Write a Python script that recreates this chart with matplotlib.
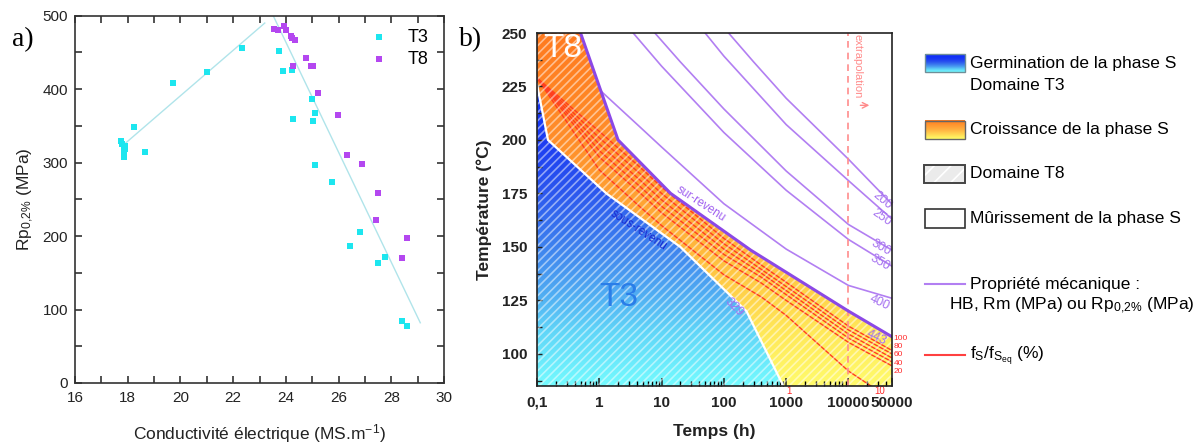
import numpy as np
import matplotlib
matplotlib.use('Agg')
import matplotlib.pyplot as plt
from matplotlib.patches import Polygon, Rectangle
from matplotlib.colors import LinearSegmentedColormap
from matplotlib.ticker import MultipleLocator, LogLocator, NullFormatter
import matplotlib.transforms as mtransforms

plt.rcParams['font.family'] = ['Liberation Sans', 'DejaVu Sans']
plt.rcParams['mathtext.fontset'] = 'custom'
plt.rcParams['mathtext.rm'] = 'Liberation Sans'
plt.rcParams['mathtext.it'] = 'Liberation Sans:italic'
plt.rcParams['mathtext.bf'] = 'Liberation Sans:bold'
plt.rcParams['hatch.linewidth'] = 1.2

# ---------------- Panel a data ----------------
t3_cond = [17.75, 17.8, 17.85, 17.9, 17.85, 17.85, 17.9, 18.25, 18.66, 19.7, 21.0, 22.35,
           23.75, 23.88, 24.22, 24.27, 24.99, 25.09, 25.04, 25.09, 25.76, 26.43, 26.81,
           27.48, 27.76, 28.4, 28.58]
t3_rp = [330, 325, 320, 318, 312, 308, 322, 348, 314, 409, 423, 456,
         452, 425, 426, 360, 387, 367, 357, 297, 274, 186, 206,
         164, 172, 85, 78]
t8_cond = [23.55, 23.71, 23.94, 24.0, 24.18, 24.23, 24.33, 24.28, 24.76, 24.94, 25.04,
           25.22, 25.99, 26.31, 26.88, 27.48, 27.42, 28.42, 28.58]
t8_rp = [482, 480, 486, 481, 472, 469, 467, 432, 443, 432, 431,
         395, 365, 310, 298, 259, 222, 170, 198]
trend1_x = [17.9, 23.2]
trend1_y = [326, 490]
trend2_x = [23.52, 29.1]
trend2_y = [500, 82]

# ---------------- Panel b data ----------------
t_range = [0.1, 50000]
T_range = [85, 250]
t3_bound_t = [0.1, 0.15, 1.3, 20, 230, 900]
t3_bound_T = [226, 200, 175, 150, 120, 85]
over_bound_t = [0.5, 2, 14, 270, 10000, 50000]
over_bound_T = [250, 200, 175, 148.5, 120, 108]

fs_t = [0.1, 1, 4.6, 10, 100, 400, 1000, 10000, 50000]
fs_100 = [229, 204, 187, 178, 154, 141.5, 133.5, 113, 101.6]
fs_80 = [229, 201, 184, 175, 151.5, 139.5, 131.5, 111.2, 100]
fs_60 = [229, 198, 181, 172, 149, 137.7, 129.6, 109.3, 98.1]
fs_40 = [229, 195, 178, 169, 146.5, 135.8, 127.7, 107.4, 96.3]
fs_20 = [229, 192, 175, 166, 143.5, 133.1, 125.0, 105.4, 94.4]
fs_10_t = [0.1, 1, 4.6, 10, 100, 400, 1000, 10000, 23000]
fs_10 = [229, 186, 168.5, 160, 137, 126.6, 118, 92, 85]
fs_labels = ['100', '80', '60', '40', '20']
fs_label_T = [107.4, 103.5, 99.6, 95.7, 91.8]

p200_t = [119, 300, 1000, 10000, 50000]
p200_T = [250, 236.5, 219.5, 191, 170]
p250_t = [50, 100, 1000, 10000, 50000]
p250_T = [250, 239.2, 207.2, 181, 163]
p300_t = [7.8, 20, 100, 1000, 10000, 50000]
p300_T = [250, 236.5, 214.5, 185.5, 160.5, 148.5]
p350_t = [3.5, 10, 100, 1000, 10000, 50000]
p350_T = [250, 234.5, 203.5, 176.5, 153.5, 141]
p400_t = [1.05, 4.6, 10, 100, 1000, 10000, 50000]
p400_T = [223, 205.8, 196.7, 170.2, 149, 132, 126]
prop_labels = ['200', '250', '300', '350', '400', '443', '329']
prop_label_t = [35300, 33600, 33600, 32000, 32000, 28000, 145]
prop_label_T = [171.7, 163.8, 149.8, 142.8, 123.7, 107.7, 121.6]
prop_label_rot = [-40, -35, -30, -30, -25, -25, -45]

xtick_vals = [0.1, 1, 10, 100, 1000, 10000, 50000]
xtick_labels = ['0,1', '1', '10', '100', '1000', '10000', '50000']
ytick_vals = [100, 125, 150, 175, 200, 225, 250]
extrap_t = 10000

# ---------------- figure ----------------
W, H = 1201, 446
fig = plt.figure(figsize=(W / 100, H / 100), dpi=100)


def box(l, t, r, b):
    return [l / W, 1 - b / H, (r - l) / W, (b - t) / H]


# ================= Panel a =================
axa = fig.add_axes(box(75, 15.7, 444, 383))
axa.plot(trend1_x, trend1_y, color='#b0e4ea', lw=1.0, zorder=1)
axa.plot(trend2_x, trend2_y, color='#b0e4ea', lw=1.0, zorder=1)
axa.scatter(t3_cond, t3_rp, marker='s', s=17, color='#1de6ef', lw=0, label='T3', zorder=3)
axa.scatter(t8_cond, t8_rp, marker='s', s=17, color='#b447f0', lw=0, label='T8', zorder=3)
axa.set_xlim(16, 30)
axa.set_ylim(0, 500)
axa.xaxis.set_major_locator(MultipleLocator(2))
axa.xaxis.set_minor_locator(MultipleLocator(1))
axa.yaxis.set_major_locator(MultipleLocator(100))
axa.yaxis.set_minor_locator(MultipleLocator(50))
axa.tick_params(which='both', direction='in', top=True, right=True, length=5, width=1.1,
                labelsize=11, colors='#222222')
axa.tick_params(axis='x', pad=6)
axa.tick_params(axis='y', pad=5)
for sp in axa.spines.values():
    sp.set_linewidth(1.2)
    sp.set_color('#333333')
axa.set_xlabel('Conductivité électrique (MS.m$^{-1}$)', fontsize=12.5, labelpad=12, color='#222222')
axa.set_ylabel(r'Rp$_{0{,}2\%}$ (MPa)', fontsize=12.5, labelpad=5, color='#222222')
axa.legend(loc='upper left', bbox_to_anchor=(0.80, 0.965), frameon=False, fontsize=13,
           handlelength=1.0, handletextpad=1.05, labelspacing=0.28, borderpad=0,
           borderaxespad=0, scatterpoints=1, markerscale=1.0)

# ================= Panel b =================
axb = fig.add_axes(box(537, 33, 892, 386))
axb.set_xscale('log')
axb.set_xlim(*t_range)
axb.set_ylim(*T_range)
axb.set_autoscale_on(False)

Tspan = T_range[1] - T_range[0]


def fr(T):
    return (T - T_range[0]) / Tspan


cmap_blue = LinearSegmentedColormap.from_list('blue', [
    (0.0, '#74fbff'), (fr(110), '#60d6f8'), (fr(130), '#4ea8f2'), (fr(150), '#3e82ee'),
    (fr(175), '#2c58ee'), (fr(200), '#1c3cf2'), (fr(225), '#1030f8'), (1.0, '#1030f8')])
cmap_orange = LinearSegmentedColormap.from_list('orange', [
    (0.0, '#fffb6c'), (fr(110), '#ffe858'), (fr(130), '#ffd048'), (fr(150), '#ffb83c'),
    (fr(175), '#ffa032'), (fr(200), '#ff8e2a'), (1.0, '#ff7a1e')])
grad = np.linspace(0, 1, 256).reshape(-1, 1)

# polygons
blue_verts = [(t_range[0], T_range[0])] + list(zip(t3_bound_t, t3_bound_T))
orange_verts = ([(t_range[0], t3_bound_T[0]), (t_range[0], T_range[1])]
                + list(zip(over_bound_t, over_bound_T))
                + [(t_range[1], T_range[0])]
                + list(zip(t3_bound_t[::-1], t3_bound_T[::-1])))
hatch_verts = ([(t_range[0], T_range[0]), (t_range[0], T_range[1])]
               + list(zip(over_bound_t, over_bound_T)) + [(t_range[1], T_range[0])])

for verts, cm in [(blue_verts, cmap_blue), (orange_verts, cmap_orange)]:
    poly = Polygon(verts, closed=True, facecolor='none', edgecolor='none')
    axb.add_patch(poly)
    im = axb.imshow(grad, extent=[0, 1, 0, 1], transform=axb.transAxes, origin='lower',
                    aspect='auto', cmap=cm, zorder=1, interpolation='bilinear')
    im.set_clip_path(poly)

# red lines
red = '#ff3d1f'
for Tv in [fs_100, fs_80, fs_60, fs_40, fs_20]:
    axb.plot(fs_t, Tv, color=red, lw=1.0, zorder=2.5)
axb.plot(fs_10_t, fs_10, color=red, lw=1.0, zorder=2.5)

# hatch
hp = Polygon(hatch_verts, closed=True, fill=False, hatch='////',
             edgecolor=(1, 1, 1, 0.5), lw=0, zorder=3)
axb.add_patch(hp)

# boundaries
axb.plot(t3_bound_t, t3_bound_T, color='white', lw=1.6, zorder=4)
axb.plot(over_bound_t, over_bound_T, color='#8b48e6', lw=2.2, zorder=6)

# property lines
pc = '#b27ff2'
for tt, TT in [(p200_t, p200_T), (p250_t, p250_T), (p300_t, p300_T), (p350_t, p350_T),
               (p400_t, p400_T)]:
    axb.plot(tt, TT, color=pc, lw=1.2, zorder=5)
for lab, tx, ty, rot in zip(prop_labels, prop_label_t, prop_label_T, prop_label_rot):
    axb.text(tx, ty, lab, color='#a46ff0', fontsize=9, rotation=rot, ha='center', va='center',
             zorder=7)

# extrapolation
axb.axvline(extrap_t, color='#ff8c8c', lw=1.2, dashes=(4, 3), zorder=5)
axb.text(14000, 234.4, 'extrapolation', rotation=-90, color='#ff8a8a', fontsize=8,
         ha='center', va='center', zorder=7)
axb.annotate('', xy=(24000, 216.2), xytext=(14000, 216.2),
             arrowprops=dict(arrowstyle='->', color='#ff8a8a', lw=1.0), zorder=7)

# region labels
axb.text(0.26, 242.8, 'T8', color='white', fontsize=24, ha='center', va='center', zorder=8)
axb.text(2.02, 126.4, 'T3', color='#2a7de8', fontsize=24, ha='center', va='center', zorder=8)
axb.text(42.6, 170.3, 'sur-revenu', color='#a060f0', fontsize=8.5, rotation=-33,
         ha='center', va='center', zorder=8)
axb.text(4.26, 157.7, 'sous-revenu', color='#1a2ad0', fontsize=8.5, rotation=-33,
         ha='center', va='center', zorder=8)

# red labels
trans_r = mtransforms.blended_transform_factory(axb.transAxes, axb.transData)
for lab, ty in zip(fs_labels, fs_label_T):
    axb.text(1.004, ty, lab, color='#ff2a2a', fontsize=6, ha='left', va='center',
             transform=trans_r, clip_on=False)
trans_b = mtransforms.blended_transform_factory(axb.transData, axb.transAxes)
axb.text(1130, -0.013, '1', color='#ff2a2a', fontsize=7, ha='center', va='center',
         transform=trans_b, clip_on=False)
axb.text(31600, -0.013, '10', color='#ff2a2a', fontsize=7, ha='center', va='center',
         transform=trans_b, clip_on=False)

# ticks
axb.set_xticks(xtick_vals, xtick_labels, fontweight='bold', fontsize=11)
axb.xaxis.set_minor_locator(LogLocator(base=10, subs=np.arange(2, 10), numticks=20))
axb.xaxis.set_minor_formatter(NullFormatter())
axb.set_yticks(ytick_vals, [str(v) for v in ytick_vals], fontweight='bold', fontsize=11)
axb.yaxis.set_minor_locator(MultipleLocator(12.5))
axb.tick_params(which='major', axis='x', direction='in', length=6, width=1.1, pad=7,
                colors='#222222')
axb.tick_params(which='minor', axis='x', direction='in', length=3.5, width=1.0)
axb.tick_params(which='both', axis='y', direction='in', length=3.5, width=1.0, pad=7,
                colors='#222222')
axb.set_axisbelow(False)
for sp in axb.spines.values():
    sp.set_linewidth(1.2)
    sp.set_color('#222222')
    sp.set_zorder(10)
axb.set_xlabel('Temps (h)', fontsize=12.5, fontweight='bold', labelpad=10, color='#222222')
axb.set_ylabel('Température (°C)', fontsize=12.5, fontweight='bold', labelpad=7,
               color='#222222')

# panel labels
fig.text(12 / W, 1 - 40 / H, 'a)', family=['Liberation Serif', 'DejaVu Serif'], fontsize=20,
         ha='left', va='center')
fig.text(459 / W, 1 - 40 / H, 'b)', family=['Liberation Serif', 'DejaVu Serif'], fontsize=20,
         ha='left', va='center')

# ================= Right-hand legend =================
lax = fig.add_axes([0, 0, 1, 1])
lax.set_xlim(0, W)
lax.set_ylim(H, 0)
lax.set_autoscale_on(False)
lax.axis('off')

lx0, lx1 = 925, 965
tx = 970
fsz = 12.5
# blue gradient
lax.imshow(grad, extent=[lx0, lx1, 72.3, 54.3], origin='lower', aspect='auto', cmap=cmap_blue,
           interpolation='bilinear', zorder=1)
lax.add_patch(Rectangle((lx0, 54.3), lx1 - lx0, 18, fill=False, edgecolor='#6f8f99', lw=1.0,
                        zorder=2))
lax.text(tx, 63.3, 'Germination de la phase S', fontsize=fsz, va='center', ha='left')
lax.text(tx, 85.7, 'Domaine T3', fontsize=fsz, va='center', ha='left')
# orange gradient
lax.imshow(grad, extent=[lx0, lx1, 139, 120.5], origin='lower', aspect='auto',
           cmap=LinearSegmentedColormap.from_list('o2', ['#ffff66', '#ffb040', '#ff7a1e']),
           interpolation='bilinear', zorder=1)
lax.add_patch(Rectangle((lx0, 120.5), lx1 - lx0, 18.5, fill=False, edgecolor='#666666', lw=1.0,
                        zorder=2))
lax.text(tx, 129.3, 'Croissance de la phase S', fontsize=fsz, va='center', ha='left')
# hatch
lax.add_patch(Rectangle((lx0 - 1, 164.5), lx1 - lx0 + 1, 18.5, facecolor='#ebebeb',
                        edgecolor='white', hatch='//', lw=0, zorder=1))
lax.add_patch(Rectangle((lx0 - 1, 164.5), lx1 - lx0 + 1, 18.5, fill=False, edgecolor='#444444',
                        lw=1.4, zorder=2))
lax.text(tx, 174, 'Domaine T8', fontsize=fsz, va='center', ha='left')
# white
lax.add_patch(Rectangle((lx0, 208.5), lx1 - lx0, 19.5, facecolor='white', edgecolor='#333333',
                        lw=1.2, zorder=2))
lax.text(tx, 218.3, 'Mûrissement de la phase S', fontsize=fsz, va='center', ha='left')
# property line
lax.plot([lx0, lx1], [284, 284], color=pc, lw=1.5)
lax.text(tx, 284, 'Propriété mécanique :', fontsize=fsz, va='center', ha='left')
lax.text(949, 306, r'HB, Rm (MPa) ou Rp$_{0{,}2\%}$ (MPa)', fontsize=fsz, va='center',
         ha='left')
# red line
lax.plot([lx0, lx1], [355, 355], color='#ff4040', lw=1.5)
lax.text(tx, 356, r'f$_\mathrm{S}$/f$_{\mathrm{S}_{\mathrm{eq}}}$ (%)', fontsize=fsz,
         va='center', ha='left')

fig.savefig('out.png', dpi=100)
